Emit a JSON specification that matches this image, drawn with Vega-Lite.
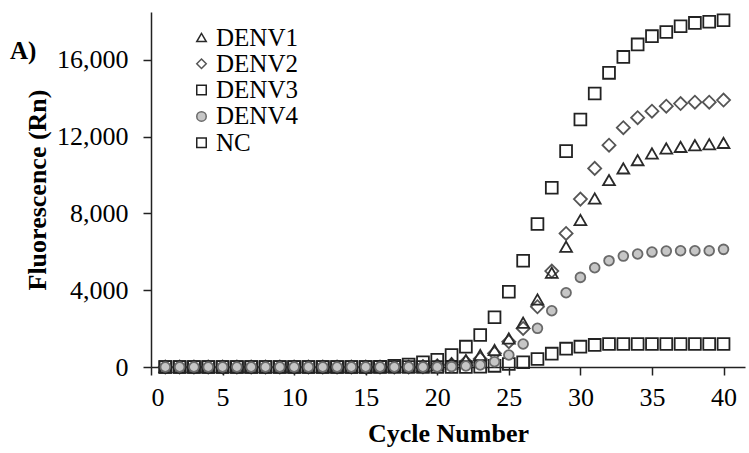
{
  "$schema": "https://vega.github.io/schema/vega-lite/v6.json",
  "autosize": {"type": "none"},
  "padding": {"left": 151, "top": 12, "right": 4, "bottom": 86},
  "width": 594,
  "height": 355,
  "background": "white",
  "title": {"text": "A)", "anchor": "start", "frame": "group", "orient": "top", "offset": 0, "baseline": "alphabetic", "dx": -141, "dy": 73, "fontSize": 25, "font": "Liberation Serif", "fontWeight": "bold", "color": "black"},
  "data": {"values": [
    {"c":1,"DENV1":0,"DENV2":0,"DENV3":0,"DENV4":0,"NC":0},
    {"c":2,"DENV1":0,"DENV2":0,"DENV3":0,"DENV4":0,"NC":0},
    {"c":3,"DENV1":0,"DENV2":0,"DENV3":0,"DENV4":0,"NC":0},
    {"c":4,"DENV1":0,"DENV2":0,"DENV3":0,"DENV4":0,"NC":0},
    {"c":5,"DENV1":0,"DENV2":0,"DENV3":0,"DENV4":0,"NC":0},
    {"c":6,"DENV1":0,"DENV2":0,"DENV3":0,"DENV4":0,"NC":0},
    {"c":7,"DENV1":0,"DENV2":0,"DENV3":0,"DENV4":0,"NC":0},
    {"c":8,"DENV1":0,"DENV2":0,"DENV3":0,"DENV4":0,"NC":0},
    {"c":9,"DENV1":0,"DENV2":0,"DENV3":0,"DENV4":0,"NC":0},
    {"c":10,"DENV1":0,"DENV2":0,"DENV3":0,"DENV4":0,"NC":0},
    {"c":11,"DENV1":0,"DENV2":0,"DENV3":0,"DENV4":0,"NC":0},
    {"c":12,"DENV1":0,"DENV2":0,"DENV3":0,"DENV4":0,"NC":0},
    {"c":13,"DENV1":0,"DENV2":0,"DENV3":0,"DENV4":0,"NC":0},
    {"c":14,"DENV1":0,"DENV2":0,"DENV3":0,"DENV4":0,"NC":0},
    {"c":15,"DENV1":0,"DENV2":0,"DENV3":0,"DENV4":0,"NC":0},
    {"c":16,"DENV1":0,"DENV2":0,"DENV3":10,"DENV4":0,"NC":0},
    {"c":17,"DENV1":0,"DENV2":0,"DENV3":60,"DENV4":0,"NC":0},
    {"c":18,"DENV1":0,"DENV2":0,"DENV3":130,"DENV4":0,"NC":0},
    {"c":19,"DENV1":30,"DENV2":20,"DENV3":250,"DENV4":0,"NC":0},
    {"c":20,"DENV1":80,"DENV2":60,"DENV3":380,"DENV4":0,"NC":0},
    {"c":21,"DENV1":190,"DENV2":130,"DENV3":625,"DENV4":20,"NC":0},
    {"c":22,"DENV1":365,"DENV2":250,"DENV3":1060,"DENV4":50,"NC":0},
    {"c":23,"DENV1":625,"DENV2":420,"DENV3":1670,"DENV4":104,"NC":20},
    {"c":24,"DENV1":885,"DENV2":710,"DENV3":2590,"DENV4":276,"NC":60},
    {"c":25,"DENV1":1490,"DENV2":1320,"DENV3":3920,"DENV4":625,"NC":156},
    {"c":26,"DENV1":2310,"DENV2":2010,"DENV3":5540,"DENV4":1200,"NC":245},
    {"c":27,"DENV1":3520,"DENV2":3140,"DENV3":7450,"DENV4":2015,"NC":417},
    {"c":28,"DENV1":4910,"DENV2":5000,"DENV3":9340,"DENV4":2930,"NC":694},
    {"c":29,"DENV1":6270,"DENV2":6960,"DENV3":11250,"DENV4":3870,"NC":955},
    {"c":30,"DENV1":7660,"DENV2":8750,"DENV3":12900,"DENV4":4670,"NC":1060},
    {"c":31,"DENV1":8780,"DENV2":10350,"DENV3":14250,"DENV4":5170,"NC":1150},
    {"c":32,"DENV1":9740,"DENV2":11560,"DENV3":15330,"DENV4":5540,"NC":1200},
    {"c":33,"DENV1":10350,"DENV2":12470,"DENV3":16160,"DENV4":5780,"NC":1200},
    {"c":34,"DENV1":10780,"DENV2":12990,"DENV3":16810,"DENV4":5890,"NC":1200},
    {"c":35,"DENV1":11130,"DENV2":13330,"DENV3":17240,"DENV4":5990,"NC":1200},
    {"c":36,"DENV1":11390,"DENV2":13590,"DENV3":17460,"DENV4":6040,"NC":1200},
    {"c":37,"DENV1":11470,"DENV2":13730,"DENV3":17760,"DENV4":6060,"NC":1200},
    {"c":38,"DENV1":11560,"DENV2":13800,"DENV3":17930,"DENV4":6060,"NC":1200},
    {"c":39,"DENV1":11610,"DENV2":13800,"DENV3":17990,"DENV4":6060,"NC":1200},
    {"c":40,"DENV1":11680,"DENV2":13910,"DENV3":18070,"DENV4":6130,"NC":1200}
  ]},
  "transform": [{"fold": ["DENV1", "DENV2", "DENV3", "NC", "DENV4"], "as": ["s", "v"]}],
  "encoding": {
    "x": {"field": "c", "type": "quantitative", "scale": {"domain": [0, 41.5], "nice": false, "zero": false},
      "axis": {"values": [0,5,10,15,20,25,30,35,40], "title": "Cycle Number", "grid": false}},
    "y": {"field": "v", "type": "quantitative", "scale": {"domain": [0, 18500], "nice": false},
      "axis": {"values": [0,4000,8000,12000,16000], "format": ",.0f", "title": "Fluorescence (Rn)", "grid": false}},
    "shape": {"field": "s", "type": "nominal", "title": null,
      "scale": {"domain": ["DENV1","DENV2","DENV3","DENV4","NC"], "range": ["triangle-up","diamond","square","circle","square"]}},
    "fill": {"field": "s", "type": "nominal", "title": null,
      "scale": {"domain": ["DENV1","DENV2","DENV3","DENV4","NC"], "range": ["transparent","transparent","transparent","#c6c6c6","transparent"]}},
    "stroke": {"field": "s", "type": "nominal", "title": null,
      "scale": {"domain": ["DENV1","DENV2","DENV3","DENV4","NC"], "range": ["#2a2a2a","#555555","#222222","#6a6a6a","#222222"]}}
  },
  "layer": [
    {"transform": [{"filter": "datum.s === 'DENV2'"}],
     "mark": {"type": "point", "filled": true, "size": 170, "strokeWidth": 1.8, "opacity": 1}},
    {"transform": [{"filter": "datum.s === 'DENV1' || datum.s === 'DENV3' || datum.s === 'NC'"}],
     "mark": {"type": "point", "filled": true, "size": 140, "strokeWidth": 1.8, "opacity": 1}},
    {"transform": [{"filter": "datum.s === 'DENV4'"}],
     "mark": {"type": "point", "filled": true, "size": 95, "strokeWidth": 1.8, "opacity": 1}}
  ],
  "config": {
    "view": {"stroke": null},
    "axis": {"labelFont": "Liberation Serif", "labelFontSize": 26, "labelColor": "black", "titleFont": "Liberation Serif", "titleFontSize": 26, "titleFontWeight": "bold", "titleColor": "black", "domainColor": "#222", "domainWidth": 1.5, "tickColor": "#222", "tickWidth": 1.5, "tickSize": 8},
    "axisX": {"labelPadding": 9, "titlePadding": 10},
    "axisY": {"labelPadding": 15, "titlePadding": 6},
    "legend": {"orient": "none", "legendX": 38, "legendY": 13, "labelFont": "Liberation Serif", "labelFontSize": 25, "labelColor": "black", "symbolSize": 90, "symbolStrokeWidth": 1.5, "labelOffset": 2, "rowPadding": 0.3, "padding": 0}
  }
}
